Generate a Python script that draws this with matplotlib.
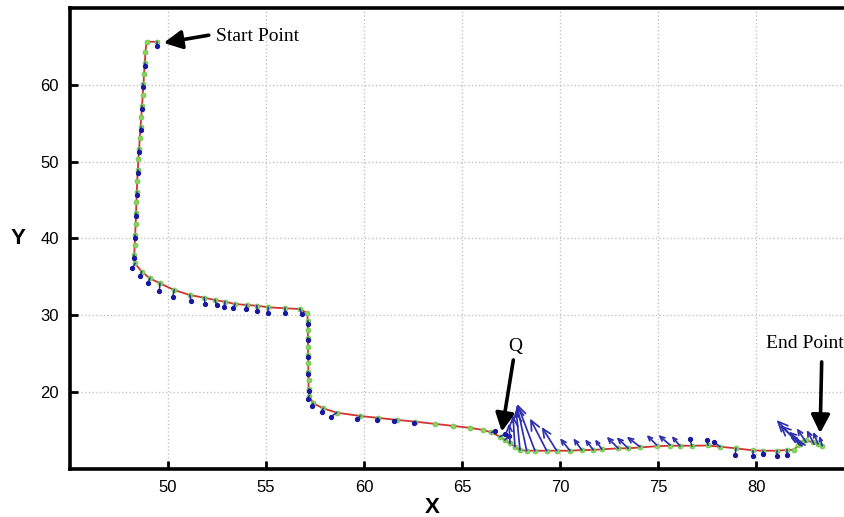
import numpy as np
import matplotlib.pyplot as plt

# trajectory samples (green dots), joined by the red path
path_x = [49.42, 48.91,
          48.85, 48.82, 48.78, 48.75, 48.71, 48.68, 48.64, 48.60, 48.56, 48.53,
          48.49, 48.46, 48.43, 48.41, 48.39, 48.37, 48.35, 48.33, 48.30, 48.28,
          48.32, 48.66, 49.08, 49.59, 50.32, 51.12, 51.85, 52.40, 52.91, 53.42,
          54.02, 54.53, 55.12, 55.97, 56.73,
          57.11, 57.13, 57.14, 57.14, 57.15, 57.15, 57.16, 57.16, 57.17, 57.17, 57.20,
          57.41, 57.92, 58.61, 59.80, 60.71, 61.67, 62.60, 63.62, 64.56, 65.41,
          66.09, 66.50, 66.94, 67.19, 67.45, 67.70, 67.96,
          68.30, 68.72, 69.32, 69.83, 70.51, 71.11, 71.70, 72.13, 72.97, 73.48,
          74.08, 74.93, 75.61, 76.12, 76.73, 77.55, 78.16, 78.98, 79.86, 80.37,
          81.05, 81.56, 81.95,
          82.16, 82.35, 82.55, 82.90, 83.15, 83.38]
path_y = [65.65, 65.65,
          64.3, 62.9, 61.5, 60.1, 58.7, 57.3, 55.9, 54.5, 53.1, 51.7,
          50.3, 48.9, 47.5, 46.1, 44.7, 43.3, 41.9, 40.5, 39.1, 37.8,
          36.75, 35.66, 34.80, 34.15, 33.27, 32.62, 32.27, 31.97, 31.75, 31.45,
          31.32, 31.23, 31.02, 30.89, 30.80,
          30.25, 29.2, 28.1, 27.0, 25.9, 24.8, 23.7, 22.6, 21.5, 20.4, 19.5,
          18.5, 17.85, 17.28, 16.85, 16.6, 16.34, 16.11, 15.82, 15.55, 15.30,
          15.02, 14.70, 14.15, 13.72, 13.28, 12.85, 12.41,
          12.32, 12.32, 12.32, 12.32, 12.32, 12.41, 12.41, 12.50, 12.63, 12.63,
          12.75, 12.90, 12.97, 12.97, 12.97, 13.00, 12.84, 12.63, 12.36, 12.32,
          12.32, 12.41, 12.45,
          13.06, 13.50, 13.70, 13.40, 13.20, 12.95]

# blue quiver: base point and vector
arr_x = [49.42,
         48.82, 48.75, 48.68, 48.60, 48.53, 48.46, 48.41, 48.37, 48.33, 48.28,
         48.32, 48.66, 49.08, 49.59, 50.32, 51.12, 51.85, 52.40, 52.91, 53.42,
         54.02, 54.53, 55.12, 55.97, 56.73,
         57.13, 57.14, 57.15, 57.16, 57.17,
         57.20, 57.41, 57.92, 58.61, 59.80, 60.71, 61.67, 62.60,
         66.50, 66.94, 67.19,
         67.45, 67.70, 67.96, 68.30, 68.72, 69.32, 69.83,
         70.51, 71.11, 71.70, 72.13, 72.97, 73.48, 74.08, 74.93, 75.61, 76.12,
         76.73, 77.55, 78.16,
         78.98, 79.86, 80.37, 81.05, 81.56,
         82.24, 82.35, 82.40, 82.50, 82.55, 82.96, 83.16, 83.38]
arr_y = [65.65,
         62.9, 60.1, 57.3, 54.5, 51.7, 48.9, 46.1, 43.3, 40.5, 37.8,
         36.75, 35.66, 34.80, 34.15, 33.27, 32.62, 32.27, 31.97, 31.75, 31.45,
         31.32, 31.23, 31.02, 30.89, 30.80,
         29.2, 27.0, 24.8, 22.6, 20.4,
         19.5, 18.5, 17.85, 17.28, 16.85, 16.6, 16.34, 16.11,
         14.70, 14.15, 13.72,
         13.28, 12.85, 12.41, 12.32, 12.32, 12.32, 12.32,
         12.32, 12.41, 12.41, 12.50, 12.63, 12.63, 12.84, 13.06, 13.06, 12.93,
         12.93, 13.06, 12.84,
         12.63, 12.32, 12.32, 12.32, 12.41,
         13.06, 12.93, 13.19, 13.06, 13.45, 13.19, 13.19, 12.95]
arr_u = [0.0,
         0.0, 0.0, 0.0, 0.0, 0.0, 0.0, 0.0, 0.0, 0.0, 0.0,
         -0.14, -0.09, -0.12, -0.03, -0.08, 0.05, 0.04, 0.08, -0.04, -0.09,
         -0.06, 0.03, -0.03, 0.0, 0.09,
         0.0, 0.0, 0.0, 0.0, 0.0,
         -0.04, -0.08, -0.08, -0.29, -0.14, -0.06, -0.14, -0.05,
         0.20, 0.25, 0.20,
         -0.05, -0.10, -0.20, -0.50, -0.90, -0.85, -0.76,
         -0.51, -0.43, -0.42, -0.34, -0.59, -0.59, -0.68, -0.51, -0.59, -0.42,
         -0.10, -0.07, -0.30,
         -0.05, 0.0, 0.0, 0.0, 0.0,
         -1.19, -1.13, -0.72, -0.77, -0.47, -0.37, -0.24, -0.15]
arr_v = [-0.6,
         -0.4, -0.4, -0.4, -0.4, -0.4, -0.4, -0.4, -0.4, -0.4, -0.4,
         -0.65, -0.56, -0.65, -0.97, -0.87, -0.82, -0.77, -0.67, -0.65, -0.56,
         -0.56, -0.65, -0.70, -0.65, -0.69,
         -0.3, -0.3, -0.3, -0.3, -0.3,
         -0.48, -0.35, -0.44, -0.51, -0.43, -0.28, -0.10, -0.13,
         0.20, 0.35, 0.50,
         2.60, 4.10, 5.20, 6.00, 6.10, 4.20, 3.10,
         1.62, 1.53, 1.40, 1.31, 1.52, 1.44, 1.31, 1.31, 1.31, 1.31,
         0.88, 0.66, 0.65,
         -0.87, -0.69, -0.43, -0.69, -0.65,
         3.26, 2.74, 1.61, 1.09, 1.79, 1.83, 1.61, 1.31]

x_ticks = [50, 55, 60, 65, 70, 75, 80]
y_ticks = [20, 30, 40, 50, 60]

note_text = ["Start Point", "Q", "End Point"]
note_pos = [(52.45, 66.3), (67.70, 25.9), (84.50, 26.3)]
note_ha = ["left", "center", "right"]
note_tail = [(52.08, 66.5), (67.62, 24.15), (83.35, 23.9)]
note_tip = [(49.78, 65.5), (67.03, 14.8), (83.27, 14.6)]

fig = plt.figure(figsize=(8.45, 5.17), dpi=100)
ax = fig.add_axes([0.0828, 0.0938, 0.9172, 0.890])
ax.set_xlim(45, 84.54)
ax.set_ylim(10, 70)

ax.grid(True, color='#c4c4c4', linestyle=':', linewidth=1.0)
ax.set_axisbelow(True)

ax.plot(path_x, path_y, color='#d23232', lw=1.3, zorder=2)
ax.plot(path_x, path_y, 'o', color='#86d45a', ms=3.6, mec='#6cc048', mew=0.5, zorder=3)

fig.canvas.draw()
for x0, y0, u, v in zip(arr_x, arr_y, arr_u, arr_v):
    p0 = ax.transData.transform((x0, y0))
    p1 = ax.transData.transform((x0 + u, y0 + v))
    L = np.hypot(*(p1 - p0)) * 72 / fig.dpi
    if L < 7:
        ax.plot([x0, x0 + u], [y0, y0 + v], color='#2a2ab0', lw=1.1, zorder=4)
        ax.plot(x0 + u, y0 + v, 'o', color='#1818a0', ms=2.8, zorder=4)
        continue
    hl = min(0.3 * L, 7)
    ax.annotate('', xy=(x0 + u, y0 + v), xytext=(x0, y0),
                arrowprops=dict(arrowstyle=f'->,head_length={hl},head_width={hl * 0.45}',
                                color='#2e2eb0', lw=1.25, mutation_scale=1,
                                shrinkA=0, shrinkB=0),
                zorder=4)

for t, pos, ha, tail, tip in zip(note_text, note_pos, note_ha, note_tail, note_tip):
    ax.text(pos[0], pos[1], t, ha=ha, va='center', fontsize=14,
            family='Liberation Serif', zorder=6)
    ax.annotate('', xy=tip, xytext=tail,
                arrowprops=dict(arrowstyle='-|>,head_length=0.55,head_width=0.28',
                                color='black', lw=2.6, mutation_scale=20,
                                shrinkA=0, shrinkB=0),
                zorder=6)

ax.set_xticks(x_ticks)
ax.set_yticks(y_ticks)
ax.tick_params(direction='in', length=6, width=2, labelsize=12, pad=8)
for lab in ax.get_xticklabels() + ax.get_yticklabels():
    lab.set_family('Liberation Sans')
for s in ['left', 'top', 'bottom']:
    ax.spines[s].set_linewidth(2.6)
ax.spines['right'].set_visible(False)

ax.set_xlabel('X', fontsize=16, fontweight='bold', family='Liberation Sans')
ax.set_ylabel('Y', fontsize=16, fontweight='bold', family='Liberation Sans', rotation=0)
ax.xaxis.set_label_coords(0.468, -0.084)
ax.yaxis.set_label_coords(-0.067, 0.5)
ax.xaxis.label.set_va('center')
ax.yaxis.label.set_va('center')

fig.savefig('out.png', dpi=100)
